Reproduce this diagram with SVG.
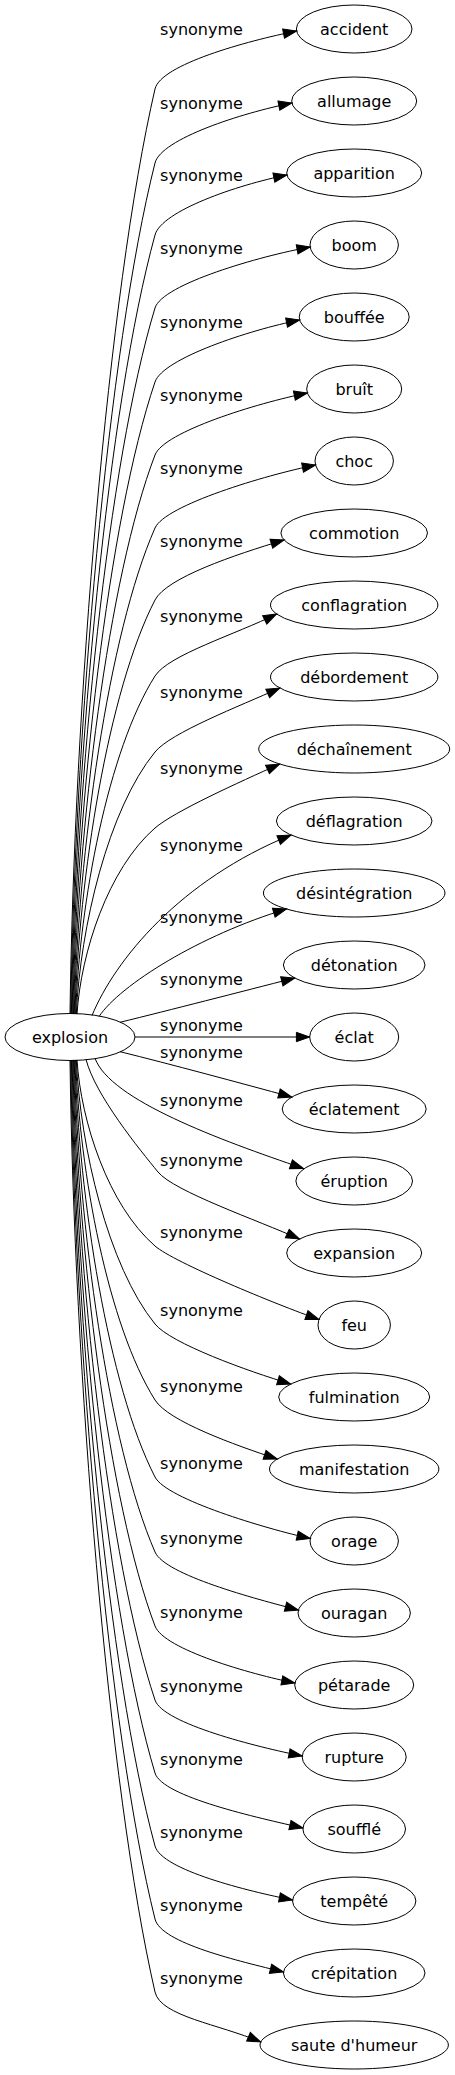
<svg xmlns="http://www.w3.org/2000/svg" width="455" height="2075" viewBox="0 0 455 2075">
<style>
.edge{fill:none;stroke:#000;stroke-width:1;marker-end:url(#arr)}
.lbl{font-family:"DejaVu Sans",sans-serif;font-size:16px;fill:#000;text-anchor:middle}
.node ellipse{fill:none;stroke:#000;stroke-width:1}
.node text{font-family:"DejaVu Sans",sans-serif;font-size:16px;fill:#000;text-anchor:middle}
</style>
<defs>
<marker id="arr" markerUnits="userSpaceOnUse" markerWidth="16" markerHeight="12" refX="13.3" refY="0" viewBox="0 -6 16 12" orient="auto" overflow="visible">
<path d="M0,-4.67 L13.3,0 L0,4.67 z" fill="#000" stroke="#000" stroke-width="1"/>
</marker>
</defs>
<rect x="0" y="0" width="455" height="2075" fill="#fff"/>
<g id="edges">
<path class="edge" d="M70,1014 C74,708.8 108,292.5 155,89 C160.6,64.6 246.6,41 296.6,31"/>
<path class="edge" d="M70.7,1014 C74.7,733.2 108,350.2 155,163 C161.1,138.8 241.9,113 291.9,103"/>
<path class="edge" d="M71.4,1014 C75.4,756.9 108,406.4 155,235 C161.6,210.9 236.9,185 286.9,175"/>
<path class="edge" d="M72.1,1014 C76.1,781 108,463.3 155,308 C162.2,284.1 260.2,256 310.2,247"/>
<path class="edge" d="M72.8,1014 C76.8,805.4 108,521 155,382 C163,358.3 249.6,330 299.6,320"/>
<path class="edge" d="M73.5,1014 C77.5,829.5 108,578 155,455 C163.9,431.7 257.4,403 307.4,393"/>
<path class="edge" d="M74.2,1014 C78.2,853.6 108,634.9 155,528 C165.1,505.1 265.6,475 315.6,465"/>
<path class="edge" d="M74.9,1014 C78.9,877.4 108,691.1 155,600 C166.5,577.8 234.1,555 284.1,540"/>
<path class="edge" d="M75.6,1014 C79.6,902.5 108,750.4 155,676 C168.4,654.9 236.4,634.1 276.6,614"/>
<path class="edge" d="M76.3,1014 C80.3,927.5 108,809.6 155,752 C170.8,732.6 238.8,706.5 279.8,688"/>
<path class="edge" d="M77,1014 C81,952.6 108,868.9 155,828 C173.9,811.6 238.6,782.5 279.6,764"/>
<path class="edge" d="M92,1015.5 C115,960 180,880 291,835"/>
<path class="edge" d="M99,1016.6 C120,985 200,935 286.5,909"/>
<path class="edge" d="M120,1022.3 C170,1010 240,992 294.7,978"/>
<path class="edge" d="M135,1037 L309.7,1037"/>
<path class="edge" d="M120,1051.7 C170,1064 240,1083 291.8,1097"/>
<path class="edge" d="M95,1058.2 C110,1100 220,1140 303.5,1168.5"/>
<path class="edge" d="M86,1059.3 C95,1095 140,1150 158,1172 C173.8,1191.4 258.4,1220.5 299.4,1239"/>
<path class="edge" d="M77,1060 C81,1121.4 108,1205.1 155,1246 C173.9,1262.4 276.5,1304.6 319,1319.5"/>
<path class="edge" d="M76.3,1060 C80.3,1147.1 108,1265.9 155,1324 C170.7,1343.4 247.6,1371.1 290.7,1384"/>
<path class="edge" d="M75.6,1060 C79.6,1172.2 108,1325.2 155,1400 C168.3,1421.2 234.5,1444.9 277.2,1459"/>
<path class="edge" d="M74.9,1060 C78.9,1197.6 108,1385.3 155,1477 C166.4,1499.2 266.2,1528.8 310.2,1538.5"/>
<path class="edge" d="M74.2,1060 C78.2,1222.4 108,1443.8 155,1552 C165,1574.9 254.8,1598.7 298.4,1610"/>
<path class="edge" d="M73.5,1060 C77.5,1246.8 108,1501.5 155,1626 C163.8,1649.4 250.8,1674.2 294.9,1683"/>
<path class="edge" d="M72.8,1060 C76.8,1271.2 108,1559.2 155,1700 C162.9,1723.7 258.1,1747.2 302.2,1756"/>
<path class="edge" d="M72.1,1060 C76.1,1295.3 108,1616.1 155,1773 C162.2,1797 259,1817.9 302.9,1828"/>
<path class="edge" d="M71.4,1060 C75.4,1319.4 108,1673.1 155,1846 C161.6,1870.1 248.4,1891.2 292.5,1900"/>
<path class="edge" d="M70.7,1060 C74.7,1343.5 108,1730 155,1919 C161,1943.3 239.7,1961.1 283.4,1972"/>
<path class="edge" d="M70,1060 C74,1367.6 108,1787 155,1992 C160.6,2016.4 219.3,2024.2 260.7,2042"/>
<text class="lbl" x="201.5" y="34.5">synonyme</text>
<text class="lbl" x="201.5" y="108.5">synonyme</text>
<text class="lbl" x="201.5" y="180.5">synonyme</text>
<text class="lbl" x="201.5" y="253.5">synonyme</text>
<text class="lbl" x="201.5" y="327.5">synonyme</text>
<text class="lbl" x="201.5" y="400.5">synonyme</text>
<text class="lbl" x="201.5" y="473.5">synonyme</text>
<text class="lbl" x="201.5" y="546.5">synonyme</text>
<text class="lbl" x="201.5" y="621.5">synonyme</text>
<text class="lbl" x="201.5" y="697.5">synonyme</text>
<text class="lbl" x="201.5" y="773.5">synonyme</text>
<text class="lbl" x="201.5" y="850.5">synonyme</text>
<text class="lbl" x="201.5" y="922.5">synonyme</text>
<text class="lbl" x="201.5" y="984.5">synonyme</text>
<text class="lbl" x="201.5" y="1030.5">synonyme</text>
<text class="lbl" x="201.5" y="1057.5">synonyme</text>
<text class="lbl" x="201.5" y="1105.5">synonyme</text>
<text class="lbl" x="201.5" y="1165.5">synonyme</text>
<text class="lbl" x="201.5" y="1237.5">synonyme</text>
<text class="lbl" x="201.5" y="1315.5">synonyme</text>
<text class="lbl" x="201.5" y="1391.5">synonyme</text>
<text class="lbl" x="201.5" y="1468.5">synonyme</text>
<text class="lbl" x="201.5" y="1543.5">synonyme</text>
<text class="lbl" x="201.5" y="1617.5">synonyme</text>
<text class="lbl" x="201.5" y="1691.5">synonyme</text>
<text class="lbl" x="201.5" y="1764.5">synonyme</text>
<text class="lbl" x="201.5" y="1837.5">synonyme</text>
<text class="lbl" x="201.5" y="1910.5">synonyme</text>
<text class="lbl" x="201.5" y="1983.5">synonyme</text>
</g>
<g id="n-explosion" class="node"><ellipse cx="70" cy="1037" rx="65" ry="23.5"/><text x="70" y="1042.5">explosion</text></g>
<g id="n-accident" class="node"><ellipse cx="354.2" cy="29" rx="57.8" ry="24"/><text x="354.2" y="34.5">accident</text></g>
<g id="n-allumage" class="node"><ellipse cx="354.2" cy="101" rx="62.5" ry="24"/><text x="354.2" y="106.5">allumage</text></g>
<g id="n-apparition" class="node"><ellipse cx="354.2" cy="173" rx="67.5" ry="24"/><text x="354.2" y="178.5">apparition</text></g>
<g id="n-boom" class="node"><ellipse cx="354.2" cy="245" rx="44.2" ry="24"/><text x="354.2" y="250.5">boom</text></g>
<g id="n-bouffee" class="node"><ellipse cx="354.2" cy="317" rx="55" ry="24"/><text x="354.2" y="322.5">bouffée</text></g>
<g id="n-bruit" class="node"><ellipse cx="354.2" cy="389" rx="47.5" ry="24"/><text x="354.2" y="394.5">bruît</text></g>
<g id="n-choc" class="node"><ellipse cx="354.2" cy="461" rx="39.2" ry="24"/><text x="354.2" y="466.5">choc</text></g>
<g id="n-commotion" class="node"><ellipse cx="354.2" cy="533" rx="73.3" ry="24"/><text x="354.2" y="538.5">commotion</text></g>
<g id="n-conflagration" class="node"><ellipse cx="354.2" cy="605" rx="83.7" ry="24"/><text x="354.2" y="610.5">conflagration</text></g>
<g id="n-debordement" class="node"><ellipse cx="354.2" cy="677" rx="83.7" ry="24"/><text x="354.2" y="682.5">débordement</text></g>
<g id="n-dechainement" class="node"><ellipse cx="354.2" cy="749" rx="95.5" ry="24"/><text x="354.2" y="754.5">déchaînement</text></g>
<g id="n-deflagration" class="node"><ellipse cx="354.2" cy="821" rx="77.8" ry="24"/><text x="354.2" y="826.5">déflagration</text></g>
<g id="n-desintegration" class="node"><ellipse cx="354.2" cy="893" rx="90.8" ry="24"/><text x="354.2" y="898.5">désintégration</text></g>
<g id="n-detonation" class="node"><ellipse cx="354.2" cy="965" rx="70.8" ry="24"/><text x="354.2" y="970.5">détonation</text></g>
<g id="n-eclat" class="node"><ellipse cx="354.2" cy="1037" rx="44.5" ry="24"/><text x="354.2" y="1042.5">éclat</text></g>
<g id="n-eclatement" class="node"><ellipse cx="354.2" cy="1109" rx="72" ry="24"/><text x="354.2" y="1114.5">éclatement</text></g>
<g id="n-eruption" class="node"><ellipse cx="354.2" cy="1181" rx="58.3" ry="24"/><text x="354.2" y="1186.5">éruption</text></g>
<g id="n-expansion" class="node"><ellipse cx="354.2" cy="1253" rx="67.5" ry="24"/><text x="354.2" y="1258.5">expansion</text></g>
<g id="n-feu" class="node"><ellipse cx="354.2" cy="1325" rx="36.2" ry="24"/><text x="354.2" y="1330.5">feu</text></g>
<g id="n-fulmination" class="node"><ellipse cx="354.2" cy="1397" rx="75.5" ry="24"/><text x="354.2" y="1402.5">fulmination</text></g>
<g id="n-manifestation" class="node"><ellipse cx="354.2" cy="1469" rx="84.7" ry="24"/><text x="354.2" y="1474.5">manifestation</text></g>
<g id="n-orage" class="node"><ellipse cx="354.2" cy="1541" rx="44.2" ry="24"/><text x="354.2" y="1546.5">orage</text></g>
<g id="n-ouragan" class="node"><ellipse cx="354.2" cy="1613" rx="56.2" ry="24"/><text x="354.2" y="1618.5">ouragan</text></g>
<g id="n-petarade" class="node"><ellipse cx="354.2" cy="1685" rx="59.5" ry="24"/><text x="354.2" y="1690.5">pétarade</text></g>
<g id="n-rupture" class="node"><ellipse cx="354.2" cy="1757" rx="52" ry="24"/><text x="354.2" y="1762.5">rupture</text></g>
<g id="n-souffle" class="node"><ellipse cx="354.2" cy="1829" rx="51.3" ry="24"/><text x="354.2" y="1834.5">soufflé</text></g>
<g id="n-tempete" class="node"><ellipse cx="354.2" cy="1901" rx="61.7" ry="24"/><text x="354.2" y="1906.5">tempêté</text></g>
<g id="n-crepitation" class="node"><ellipse cx="354.2" cy="1973" rx="70.8" ry="24"/><text x="354.2" y="1978.5">crépitation</text></g>
<g id="n-saute" class="node"><ellipse cx="354.2" cy="2045" rx="94.2" ry="24"/><text x="354.2" y="2050.5">saute d'humeur</text></g>
</svg>
